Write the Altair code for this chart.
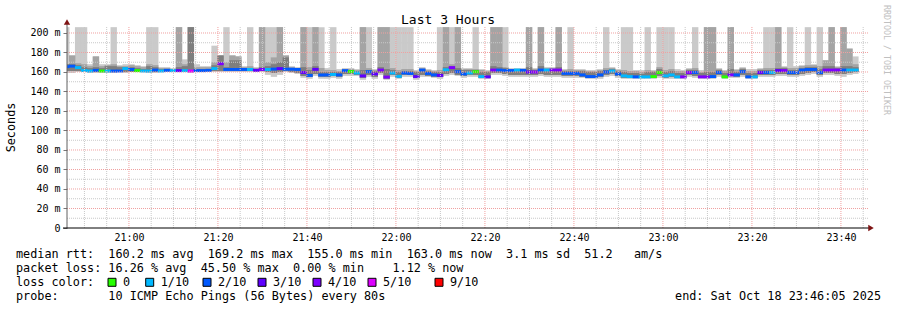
import altair as alt
import pandas as pd

# ---------------- data ----------------
# one entry per 80 s step, starting just before the left edge of the plot
loss = [2,2,1,1,1,2,0,1,2,2, 1,2,0,1,1,2,1,2,1,3, 1,5,2,2,2,1,4,2,2,2,
        2,1,3,4,1,2,3,2,2,2, 3,2,3,2,2,1,2,2,0,1, 3,2,3,4,4,1,1,2,2,3,
        2,2,2,3,1,4,2,2,1,0, 1,3,4,2,2,2,1,2,3,4, 2,1,4,4,2,2,2,2,2,2,
        2,2,1,2,1,1,2,1,1,0, 0,1,1,1,4,4,2,4,4,2, 2,0,4,2,2,2,1,3,2,1,
        3,4,2,2,2,2,2,2,4,4, 4,2,1,1]
median = [165.5,166,164.5,161.5,161,161.7,161,161,161,161,
          163.5,162.6,161.4,161,161,162,161,161.7,161.4,161.4,
          161.4,161,161.4,161.4,161.7,163.5,168.5,162.6,162.6,162.6,
          162.6,162.6,161.7,162.6,162.6,163,163.5,162.9,162.9,162.6,
          159.5,156.5,162.7,157,157,157.5,157,161.4,160.5,159,
          156,160.3,158,162,154.8,159,155.5,159,158.5,155.3,
          162,158.5,157,156.5,162.3,164.5,160.3,158,159,160.3,
          155.3,155,162,162,161.5,161.5,162,161.7,160,160,
          162,162,162,162,158.6,158.6,158.6,157,155.3,155.3,
          157,160,161,158,156,155.3,155,155,155,155.3,
          159.5,156,157,155,155,159.5,159.5,155,155,155.3,
          159.5,155,157,157,160.3,155,155,159.5,159.5,159.5,
          161.5,161.5,159.5,159.5,162,162.6,162.6,159.5,162,162,
          162,162,162,162]
smoke_top_light = [206,177,206,206,168,176,168,168,206,167, 168,168,167,166,206,206,165,165,164,206,
                   173,206,168,166,166,187,177,206,177,176, 166,206,165,206,206,206,206,177,166,165,
                   206,206,206,206,164,206,163,164,164,163, 206,206,163,206,206,206,206,206,206,162,
                   165,163,162,206,206,206,206,164,164,206, 163,162,206,206,206,164,164,164,206,164,
                   206,165,165,206,163,206,163,163,162,162, 163,206,165,163,206,206,162,162,206,162,
                   206,206,206,163,162,164,206,162,206,206, 164,162,206,163,165,163,163,164,206,206,
                   206,166,206,166,167,206,168,206,172,206, 166,206,184,176]
smoke_top_mid = [168,177,169,168,166,176,166,167,168,166, 166,167,166,165,168,167,164,164,163,206,
                 168,206,165,165,165,170,177,170,177,176, 165,166,164,206,170,175,206,177,165,164,
                 206,165,206,164,162,162,161,163,163,162, 206,164,162,206,206,164,162,163,163,161,
                 164,162,161,162,206,168,206,163,163,163, 162,161,206,206,165,163,163,163,206,163,
                 206,164,164,206,162,163,162,162,161,161, 162,164,164,162,162,161,161,160,162,161,
                 165,162,163,161,161,163,164,160,206,206, 163,161,206,162,164,161,161,163,164,164,
                 206,165,164,164,166,167,167,166,172,206, 165,206,184,168]
smoke_top_dark = [168,168,167,165,164,165,164,166,166,165, 165,165,164,163,166,165,163,163,162,165,
                  166,206,163,163,163,167,177,165,172,172, 164,164,163,165,166,168,170,175,164,163,
                  165,162,166,160,160,160,160,162,162,161, 162,162,161,165,163,162,160,161,161,160,
                  163,161,160,160,165,166,164,162,162,162, 160,160,166,165,164,162,162,162,165,162,
                  166,163,163,165,161,161,161,161,160,160, 161,162,163,161,160,159,159,158,160,160,
                  163,160,161,159,159,162,162,159,160,160, 162,159,163,160,163,159,159,162,162,162,
                  164,164,162,162,164,165,165,163,166,166, 164,166,166,165]
smoke_low_light = [159,159,160,160,159,159,159,159,159,160, 159,160,160,160,159,159,160,160,160,160,
                   160,159,160,160,160,160,160,160,160,160, 160,160,160,160,157,155,157,160,159,158,
                   154,153,156,153,153,154,153,156,156,156, 152,155,153,157,152,155,153,155,155,152,
                   155,155,154,153,156,157,156,154,155,155, 153,153,157,157,156,155,155,155,155,155,
                   156,155,155,155,154,154,154,154,153,153, 153,155,156,154,153,153,153,153,153,153,
                   154,153,153,153,153,155,154,153,153,153, 155,153,154,154,155,153,153,155,155,155,
                   156,156,155,155,156,157,158,155,157,157, 156,155,157,158]
smoke_low_mid = [161,161,161,160,160,160,160,160,160,160, 160,160,160,160,160,160,160,161,161,160,
                 160,160,160,160,161,161,161,161,161,161, 161,161,161,161,160,159,160,161,160,159,
                 156,155,158,155,155,156,155,158,158,157, 154,157,155,159,153,157,154,157,157,154,
                 157,156,155,155,158,159,157,156,157,157, 154,154,159,159,158,157,157,157,157,157,
                 158,157,157,157,156,156,156,155,154,154, 155,157,158,156,154,154,154,154,154,154,
                 156,154,155,154,154,157,156,154,154,154, 157,154,156,155,157,154,154,157,157,157,
                 158,158,157,157,158,159,160,157,159,159, 158,158,159,160]

loss_values = [0, 1, 2, 3, 4, 5, 9]
loss_labels = ["0", "1/10", "2/10", "3/10", "4/10", "5/10", "9/10"]
loss_colors = ["#26ff00", "#00b8ff", "#0059ff", "#5e00ff", "#7e00ff", "#dd00ff", "#ff0000"]

title_text = "Last 3 Hours"
legend_lines = [
    "median rtt:  160.2 ms avg  169.2 ms max  155.0 ms min  163.0 ms now  3.1 ms sd  51.2   am/s",
    "packet loss: 16.26 % avg  45.50 % max  0.00 % min    1.12 % now",
    "loss color:",
    "probe:       10 ICMP Echo Pings (56 Bytes) every 80s",
]
end_text = "end: Sat Oct 18 23:46:05 2025"
credit_text = "RRDTOOL / TOBI OETIKER"

# ---------------- layout ----------------
FONT = "DejaVu Sans Mono"
W, H = 801, 201
PAD = {"left": 67, "top": 27, "right": 29, "bottom": 82}
START = 46 + 5 / 60          # 20:46:05 as minutes after 20:00
END = START + 180
FIRST_STEP = 45.2
STEP = 80 / 60
Y_MAX = 206.15

n = len(median)
df = pd.DataFrame({
    "x0": [FIRST_STEP + i * STEP for i in range(n)],
    "t1": smoke_top_light, "t2": smoke_top_mid, "t3": smoke_top_dark,
    "l1": smoke_low_light, "l2": smoke_low_mid,
    "m": median, "loss": loss,
})
df["x1"] = df["x0"] + STEP + 0.1
df["m_lo"] = df["m"] - 1.5
df["m_hi"] = df["m"] + 1.5

xs = alt.Scale(domain=[START, END], nice=False, zero=False)
ys = alt.Scale(domain=[0, Y_MAX], nice=False, zero=False)

x_ticks = list(range(60, 221, 20))
y_ticks = list(range(0, 201, 20))

x_axis = alt.Axis(values=x_ticks, title=None, domain=False, ticks=False, grid=False,
                  labelFont=FONT, labelFontSize=10, labelColor="#000", labelPadding=4,
                  labelExpr="(20 + floor(datum.value / 60)) + ':' + (datum.value % 60 < 10 ? '0' : '') + (datum.value % 60)")
y_axis = alt.Axis(values=y_ticks, title=None, domain=False, ticks=True, tickSize=4,
                  tickColor="#777", grid=False, labelFont=FONT, labelFontSize=10,
                  labelColor="#000", labelPadding=3,
                  labelExpr="datum.value == 0 ? '0' : datum.value + ' m'")


def X(field):
    return alt.X(field, scale=xs, axis=x_axis, title=None)


def Y(field):
    return alt.Y(field, scale=ys, axis=y_axis, title=None)


light = alt.Chart(df).mark_rect(color="#cacaca", clip=True).encode(
    x=X("x0:Q"), x2="x1:Q", y=Y("l1:Q"), y2="t1:Q")
mid = alt.Chart(df).mark_rect(color="#a4a4a4", clip=True).encode(
    x=X("x0:Q"), x2="x1:Q", y=Y("l2:Q"), y2="t2:Q")
dark = alt.Chart(df).mark_rect(color="#7e7e7e", clip=True).encode(
    x=X("x0:Q"), x2="x1:Q", y=Y("l2:Q"), y2="t3:Q")
med = alt.Chart(df).mark_rect(clip=True).encode(
    x=X("x0:Q"), x2="x1:Q", y=Y("m_lo:Q"), y2="m_hi:Q",
    color=alt.Color("loss:O", scale=alt.Scale(domain=loss_values, range=loss_colors), legend=None))

# grid
h_minor = [v for v in range(10, 201, 10) if v % 20]
h_major = [v for v in range(20, 201, 20)]
v_minor = [v for v in range(50, 226, 5) if v % 20]
v_major = x_ticks
MINOR_C, MAJOR_C = "#c8c8c8", "#f0a0a0"
grid = [
    alt.Chart(pd.DataFrame({"v": h_minor})).mark_rule(color=MINOR_C, strokeDash=[1, 1]).encode(y=Y("v:Q")),
    alt.Chart(pd.DataFrame({"v": v_minor})).mark_rule(color=MINOR_C, strokeDash=[1, 1]).encode(x=X("v:Q")),
    alt.Chart(pd.DataFrame({"v": h_major})).mark_rule(color=MAJOR_C, strokeDash=[1, 1]).encode(y=Y("v:Q")),
    alt.Chart(pd.DataFrame({"v": v_major})).mark_rule(color=MAJOR_C, strokeDash=[1, 1]).encode(x=X("v:Q")),
]

one = pd.DataFrame({"d": [0]})
axes = [
    alt.Chart(one).mark_rule(color="#606060").encode(
        x=alt.value(0), y=alt.value(-3), y2=alt.value(H)),
    alt.Chart(one).mark_rule(color="#000000").encode(
        x=alt.value(-4), x2=alt.value(W + 1), y=alt.value(H)),
    alt.Chart(one).mark_point(shape="triangle-up", filled=True, size=40, color="#7f1414", opacity=1).encode(
        x=alt.value(0), y=alt.value(-5)),
    alt.Chart(one).mark_point(shape="triangle-right", filled=True, size=40, color="#7f1414", opacity=1).encode(
        x=alt.value(W + 3), y=alt.value(H)),
]

NBSP = "\u00a0"


def label(text, x, y, size=11.8, align="left", angle=0, color="#000"):
    return alt.Chart(pd.DataFrame({"t": [text.replace(" ", NBSP)]})).mark_text(
        font=FONT, fontSize=size, align=align, baseline="middle", angle=angle, color=color
    ).encode(text="t:N", x=alt.value(x), y=alt.value(y))


texts = [label(title_text, 448 - PAD["left"], 20 - PAD["top"], size=13, align="center"),
         label("Seconds", 11 - PAD["left"], 127.5 - PAD["top"], angle=270, align="center"),
         label(credit_text, 886 - PAD["left"], 60 - PAD["top"], size=8.3, angle=90,
               align="center", color="#c0c0c0")]
line_y = [254.3, 268.3, 282.3, 296.3]
for s, yy in zip(legend_lines, line_y):
    texts.append(label(s, 16 - PAD["left"], yy - PAD["top"]))
texts.append(label(end_text, 881 - PAD["left"], line_y[3] - PAD["top"], align="right"))

# loss colour legend boxes
box_left = [108, 145.7, 203, 258, 313, 368, 435]
for bx, lab, col in zip(box_left, loss_labels, loss_colors):
    x0 = bx - PAD["left"]
    y0 = line_y[2] - 4 - PAD["top"]
    texts.append(alt.Chart(one).mark_rect(fill=col, stroke="#000", strokeWidth=1).encode(
        x=alt.value(x0), x2=alt.value(x0 + 8), y=alt.value(y0), y2=alt.value(y0 + 8)))
    texts.append(label(lab, bx + 15 - PAD["left"], line_y[2] - PAD["top"]))

chart = alt.layer(light, mid, dark, med, *grid, *axes, *texts).properties(
    width=W, height=H, padding=PAD, background="white",
    autosize=alt.AutoSizeParams(type="none"),
).configure_view(stroke=None)

chart.save("out.html", embed_options={"renderer": "svg", "actions": False})
